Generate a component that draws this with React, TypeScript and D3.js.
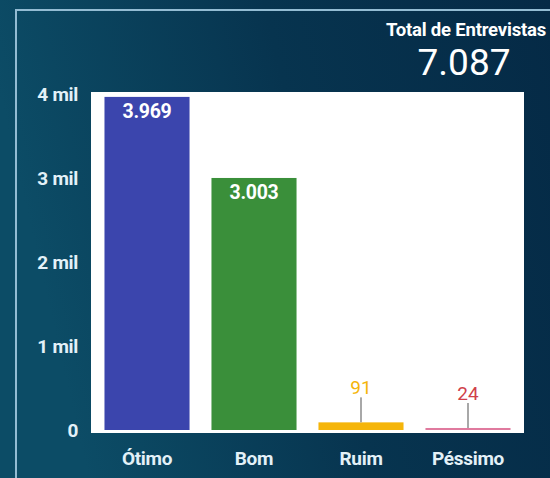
import * as d3 from "d3";
import { useEffect, useRef } from "react";

const categories = ["Ótimo", "Bom", "Ruim", "Péssimo"];
const values = [3969, 3003, 91, 24];
const labels = ["3.969", "3.003", "91", "24"];
const barColors = ["#3b45ad", "#3a8f3a", "#f5b50a", "#e07a9e"];
const labelColors = ["#ffffff", "#ffffff", "#f5b50a", "#d0404a"];
const yTicks = [0, 1000, 2000, 3000, 4000];
const yTickLabels = ["0", "1 mil", "2 mil", "3 mil", "4 mil"];
const totalLabel = "Total de Entrevistas";
const totalValue = "7.087";

function App() {
	const ref = useRef<SVGSVGElement>(null);

	useEffect(() => {
		const width = 550;
		const height = 478;
		const svg = d3.select(ref.current);
		svg.selectAll("*").remove();

		const defs = svg.append("defs");
		const grad = defs
			.append("linearGradient")
			.attr("id", "bg")
			.attr("x1", "0")
			.attr("y1", "0.2")
			.attr("x2", "1")
			.attr("y2", "0");
		grad.append("stop").attr("offset", "0").attr("stop-color", "#0c4c66");
		grad.append("stop").attr("offset", "0.5").attr("stop-color", "#07344f");
		grad.append("stop").attr("offset", "1").attr("stop-color", "#052a46");

		svg.append("rect")
			.attr("width", width)
			.attr("height", height)
			.attr("fill", "url(#bg)");

		// frame
		svg.append("path")
			.attr("d", `M16,${height} L16,10 L${width},10`)
			.attr("fill", "none")
			.attr("stroke", "#93bcd3")
			.attr("stroke-width", 2);

		const plot = { left: 91, right: 524, top: 92, bottom: 433 };
		svg.append("rect")
			.attr("x", plot.left)
			.attr("y", plot.top)
			.attr("width", plot.right - plot.left)
			.attr("height", plot.bottom - plot.top)
			.attr("fill", "#ffffff");

		const xScale = d3
			.scaleBand()
			.domain(categories)
			.range([plot.left, plot.right])
			.paddingInner(0.205)
			.paddingOuter(0.126);
		const yScale = d3.scaleLinear().domain([0, 4000]).range([430, 94.3]);

		const font = "Roboto, 'DejaVu Sans', sans-serif";

		// y ticks
		svg.append("g")
			.selectAll("text")
			.data(yTicks)
			.enter()
			.append("text")
			.attr("x", 78)
			.attr("y", (d) => yScale(d) + 6.5)
			.attr("text-anchor", "end")
			.attr("fill", "#e3f1f8")
			.style("font-family", font)
			.style("font-size", "19px")
			.style("font-weight", "bold")
			.style("letter-spacing", "-0.3px")
			.text((d, i) => yTickLabels[i]);

		// x labels
		svg.append("g")
			.selectAll("text")
			.data(categories)
			.enter()
			.append("text")
			.attr("x", (d) => (xScale(d) as number) + xScale.bandwidth() / 2)
			.attr("y", 465)
			.attr("text-anchor", "middle")
			.attr("fill", "#e3f1f8")
			.style("font-family", font)
			.style("font-size", "19px")
			.style("font-weight", "bold")
			.style("letter-spacing", "-0.3px")
			.text((d) => d);

		// bars
		svg.append("g")
			.selectAll("rect")
			.data(values)
			.enter()
			.append("rect")
			.attr("x", (d, i) => xScale(categories[i]) as number)
			.attr("width", xScale.bandwidth())
			.attr("y", (d) => Math.min(yScale(d), yScale(0) - 2))
			.attr("height", (d) => Math.max(yScale(0) - yScale(d), 2))
			.attr("fill", (d, i) => barColors[i]);

		// value labels
		values.forEach((v, i) => {
			const cx = (xScale(categories[i]) as number) + xScale.bandwidth() / 2;
			const barH = yScale(0) - yScale(v);
			if (barH > 30) {
				svg.append("text")
					.attr("x", cx)
					.attr("y", yScale(v) + 21)
					.attr("text-anchor", "middle")
					.attr("fill", labelColors[i])
					.style("font-family", font)
					.style("font-size", "19.5px")
					.style("font-weight", "bold")
					.style("letter-spacing", "-0.3px")
					.text(labels[i]);
			} else {
				const top = Math.min(yScale(v), yScale(0) - 2);
				const lineTop = top - 25;
				svg.append("line")
					.attr("x1", cx)
					.attr("x2", cx)
					.attr("y1", top)
					.attr("y2", lineTop)
					.attr("stroke", "#a8a8a8")
					.attr("stroke-width", 2);
				svg.append("text")
					.attr("x", cx)
					.attr("y", lineTop - 3)
					.attr("text-anchor", "middle")
					.attr("fill", labelColors[i])
					.style("font-family", font)
					.style("font-size", "19px")
					.text(labels[i]);
			}
		});

		// total
		svg.append("text")
			.attr("x", 546)
			.attr("y", 36)
			.attr("text-anchor", "end")
			.attr("fill", "#ffffff")
			.style("font-family", font)
			.style("font-size", "18.5px")
			.style("font-weight", "bold")
			.style("letter-spacing", "-0.2px")
			.text(totalLabel);
		svg.append("text")
			.attr("x", 464)
			.attr("y", 75)
			.attr("text-anchor", "middle")
			.attr("fill", "#ffffff")
			.style("font-family", font)
			.style("font-size", "37px")
			.text(totalValue);
	}, []);

	return (
		<svg
			ref={ref}
			width={550}
			height={478}
			style={{ position: "fixed", left: 0, top: 0, display: "block" }}
		/>
	);
}

export default App;
